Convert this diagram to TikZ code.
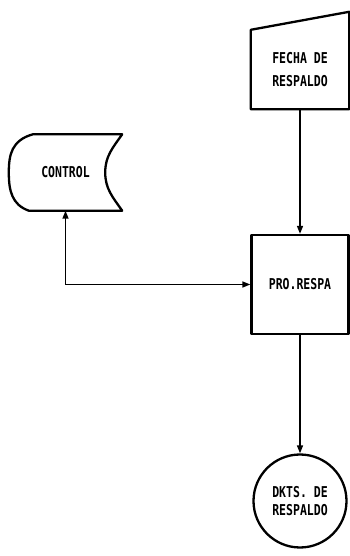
\documentclass[tikz,border=0pt]{standalone}
\usepackage{fontspec}
\usepackage{graphicx}
\usetikzlibrary{calc}
\usetikzlibrary{arrows.meta}
\newfontfamily\dotfont{DejaVu Sans Mono}
\newcommand{\tall}[1]{\scalebox{1}[1.3]{#1}}

\begin{document}
\begin{tikzpicture}[x=1pt,y=1pt,
  lbl/.style={font=\dotfont\bfseries\fontsize{11.5}{23}\selectfont,align=center},
  shp/.style={line width=2.3pt,line join=round},
  conn/.style={line width=1.5pt,-{Triangle[length=8pt,width=6pt]}},
  twoway/.style={line width=1.5pt,{Triangle[length=8pt,width=6pt]}-{Triangle[length=8pt,width=6pt]}}]
\useasboundingbox (0,0) rectangle (350,556);

% ---------- manual input : date ----------
\node[lbl,minimum width=98,minimum height=79] (fecha) at (300,486.5)
  {\tall{FECHA DE}\\\tall{RESPALDO}};
\draw[shp] (fecha.south west)--(fecha.north west)--([yshift=18pt]fecha.north east)
  --(fecha.south east)--cycle;

% ---------- process ----------
\node[lbl,draw,shp,minimum width=97,minimum height=99] (proc) at (300,271.5) {\tall{PRO.RESPA}};

% ---------- stored data ----------
\node[lbl,minimum width=113,minimum height=76] (control) at (65.5,383.5) {\tall{CONTROL}};
\draw[shp] ([xshift=24pt]control.north west)
  .. controls ([xshift=3pt,yshift=-6pt]control.north west) and ([yshift=18pt]control.west) .. (control.west)
  .. controls ([yshift=-18pt]control.west) and ([xshift=3pt,yshift=6pt]control.south west) .. ([xshift=20pt]control.south west)
  -- (control.south east) to[out=125,in=-90] ([xshift=-17pt]control.east)
  to[out=90,in=-125] (control.north east) -- cycle;

% ---------- disk ----------
\node[lbl,font=\dotfont\bfseries\fontsize{11.5}{18}\selectfont,draw,shp,circle,minimum size=93]
  (dkts) at (300,55) {\tall{DKTS. DE}\\\tall{RESPALDO}};

% ---------- connectors ----------
\draw[conn] (fecha.south) -- (proc.north);
\draw[conn] (proc.south) -- (dkts.north);
\draw[twoway] (control.south) |- (proc.west);

\end{tikzpicture}
\end{document}
